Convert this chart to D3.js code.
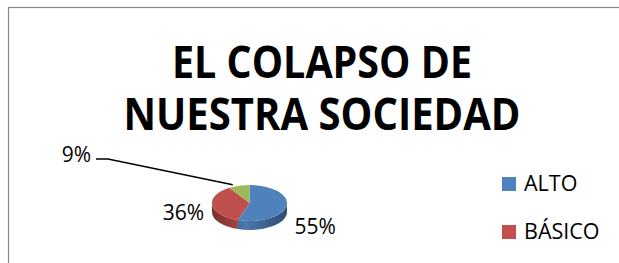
<!DOCTYPE html>
<html>
<head>
<meta charset="utf-8">
<script src="https://cdn.jsdelivr.net/npm/d3@7"></script>
<style>
  html, body { margin: 0; padding: 0; background: #fff; }
  svg { display: block; }
</style>
</head>
<body>
<svg width="619" height="263"></svg>
<script>
// data
categories = ['ALTO', 'BÁSICO', 'OTRO'];
values = [55, 36, 9];
valueLabels = ['55%', '36%', '9%'];
legendItems = ['ALTO', 'BÁSICO'];
titleLines = ['EL COLAPSO DE', 'NUESTRA SOCIEDAD'];

colors = ['#4f81bd', '#c0504d', '#9bbb59'];
sideDark = ['#2c4d75', '#7a2f2d', '#5f7a35'];
sideLight = ['#4a77ad', '#b04a47', '#8eac52'];

svg = d3.select('svg');
defs = svg.append('defs');

// frame (only top + left edges visible)
svg.append('rect')
    .attr('x', 8.5)
    .attr('y', 7.5)
    .attr('width', 700)
    .attr('height', 400)
    .attr('fill', 'none')
    .attr('stroke', '#878787')
    .attr('stroke-width', 1.2);

// title
titleY = [78, 130];
titleW = [300, 397];
titleLines.forEach((t, i) => {
    svg.append('text')
        .attr('x', 322)
        .attr('y', titleY[i])
        .attr('text-anchor', 'middle')
        .attr('font-family', 'Open Sans, sans-serif')
        .attr('font-weight', 'bold')
        .attr('font-size', 45)
        .attr('textLength', titleW[i])
        .attr('lengthAdjust', 'spacingAndGlyphs')
        .attr('fill', '#000')
        .text(t);
});

// 3d pie
cx = 249.5; cy = 203; rx = 37.5; ry = 18; depth = 9;

pie = d3.pie().sort(null).startAngle(0).endAngle(2 * Math.PI);
arcs = pie(values);

pt = (a, dy) => [cx + rx * Math.sin(a), cy - ry * Math.cos(a) + (dy || 0)];

// gradients for side walls
colors.forEach((c, i) => {
    g = defs.append('linearGradient')
        .attr('id', 'side' + i)
        .attr('gradientUnits', 'userSpaceOnUse')
        .attr('x1', cx - rx).attr('x2', cx + rx)
        .attr('y1', 0).attr('y2', 0);
    g.append('stop').attr('offset', '0%').attr('stop-color', sideDark[i]);
    g.append('stop').attr('offset', '45%').attr('stop-color', sideLight[i]);
    g.append('stop').attr('offset', '100%').attr('stop-color', sideDark[i]);
});

pieG = svg.append('g');

// side walls - only front half (pi/2 .. 3pi/2) is visible
arcs.forEach((d, i) => {
    s = Math.max(d.startAngle, Math.PI / 2);
    e = Math.min(d.endAngle, 3 * Math.PI / 2);
    if (e <= s) return;
    p0 = pt(s); p1 = pt(e);
    p2 = pt(e, depth); p3 = pt(s, depth);
    large = (e - s) > Math.PI ? 1 : 0;
    path = `M${p0}A${rx},${ry} 0 ${large} 1 ${p1}L${p2}A${rx},${ry} 0 ${large} 0 ${p3}Z`;
    pieG.append('path')
        .attr('d', path)
        .attr('fill', 'url(#side' + i + ')');
});

// top faces
arcs.forEach((d, i) => {
    p0 = pt(d.startAngle); p1 = pt(d.endAngle);
    large = (d.endAngle - d.startAngle) > Math.PI ? 1 : 0;
    pieG.append('path')
        .attr('d', `M${cx},${cy}L${p0}A${rx},${ry} 0 ${large} 1 ${p1}Z`)
        .attr('fill', colors[i]);
});

// data labels
labelFont = 'Open Sans, sans-serif';
labelDY = [31, 17];
arcs.slice(0, 2).forEach((d, i) => {
    mid = (d.startAngle + d.endAngle) / 2;
    svg.append('text')
        .attr('x', cx + (rx + 29) * Math.sin(mid))
        .attr('y', cy + labelDY[i])
        .attr('text-anchor', 'middle')
        .attr('font-family', labelFont)
        .attr('font-size', 21)
        .attr('fill', '#000')
        .text(valueLabels[i]);
});

// small slice label with leader line
g3 = arcs[2];
tip = pt((g3.startAngle + g3.endAngle) / 2 - 0.15, 0);
svg.append('path')
    .attr('d', `M96,159L108,159L${tip[0] - 1},${tip[1] - 2}`)
    .attr('fill', 'none')
    .attr('stroke', '#000')
    .attr('stroke-width', 1.6);
svg.append('text')
    .attr('x', 91)
    .attr('y', 162)
    .attr('text-anchor', 'end')
    .attr('font-family', labelFont)
    .attr('font-size', 21)
    .attr('fill', '#000')
    .text(valueLabels[2]);

// legend
legendY = [177, 225];
legendItems.forEach((t, i) => {
    svg.append('rect')
        .attr('x', 502)
        .attr('y', legendY[i])
        .attr('width', 14)
        .attr('height', 14)
        .attr('fill', colors[i]);
    svg.append('text')
        .attr('x', 524)
        .attr('y', legendY[i] + 14)
        .attr('font-family', labelFont)
        .attr('font-size', 21.5)
        .attr('fill', '#000')
        .text(t);
});
</script>
</body>
</html>
